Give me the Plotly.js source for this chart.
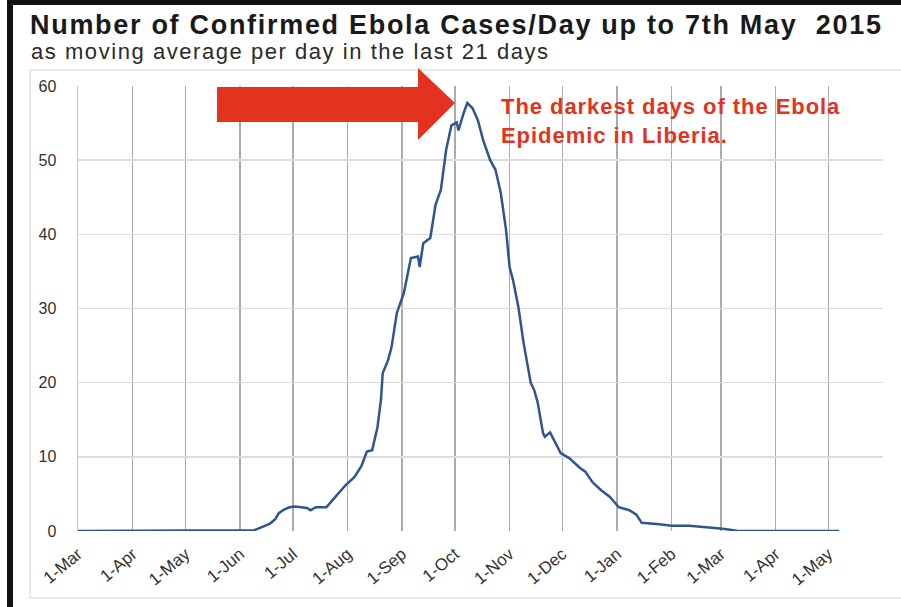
<!DOCTYPE html>
<html><head><meta charset="utf-8">
<script src="https://cdn.plot.ly/plotly-3.0.1.min.js"></script>
<style>
html,body{margin:0;padding:0;background:#fff;overflow:hidden}
#chart{width:901px;height:607px}
text.gtitle{letter-spacing:1.7px}
g.annotation[data-index="0"] text{letter-spacing:1.55px}
g.annotation[data-index="1"] text{letter-spacing:0.95px}
</style>
</head><body><div id="chart"></div>
<script>
// ---- data ----
const dates = ['2014-03-01','2014-03-21','2014-03-25','2014-04-15','2014-05-10','2014-06-01','2014-06-09','2014-06-13','2014-06-18','2014-06-21','2014-06-23','2014-06-26','2014-06-29','2014-07-02','2014-07-06','2014-07-09','2014-07-11','2014-07-14','2014-07-17','2014-07-20','2014-07-24','2014-07-27','2014-07-31','2014-08-05','2014-08-09','2014-08-12','2014-08-15','2014-08-18','2014-08-20','2014-08-21','2014-08-24','2014-08-26','2014-08-29','2014-09-02','2014-09-06','2014-09-10','2014-09-11','2014-09-13','2014-09-17','2014-09-20','2014-09-23','2014-09-26','2014-09-29','2014-10-02','2014-10-03','2014-10-06','2014-10-08','2014-10-11','2014-10-14','2014-10-17','2014-10-21','2014-10-24','2014-10-27','2014-10-30','2014-11-01','2014-11-03','2014-11-06','2014-11-09','2014-11-13','2014-11-15','2014-11-17','2014-11-20','2014-11-21','2014-11-24','2014-11-27','2014-11-30','2014-12-05','2014-12-11','2014-12-14','2014-12-18','2014-12-23','2014-12-28','2015-01-02','2015-01-08','2015-01-12','2015-01-15','2015-01-25','2015-02-01','2015-02-11','2015-02-21','2015-03-02','2015-03-10','2015-03-20','2015-05-07'];
const cases = [0,0,0.1,0.1,0.05,0,0.1,0.5,1.0,1.6,2.4,2.9,3.2,3.3,3.2,3.1,2.8,3.2,3.2,3.2,4.3,5.1,6.2,7.3,8.8,10.7,10.9,14.0,17.7,21.3,23.0,24.8,29.4,32.1,36.8,37.0,35.6,38.8,39.5,44.0,46.0,51.4,54.7,55.1,54.0,56.4,57.7,57.0,55.4,52.7,50.0,48.7,45.6,40.6,35.6,33.8,30.2,25.3,20.0,19.0,17.3,13.2,12.7,13.3,11.9,10.5,9.8,8.5,8.0,6.6,5.5,4.6,3.2,2.8,2.2,1.1,0.9,0.7,0.7,0.5,0.3,0.05,0,0];
const tickDates = ['2014-03-01','2014-04-01','2014-05-01','2014-06-01','2014-07-01','2014-08-01','2014-09-01','2014-10-01','2014-11-01','2014-12-01','2015-01-01','2015-02-01','2015-03-01','2015-04-01','2015-05-01','2015-06-01'];
const tickLabels = ['1-Mar','1-Apr','1-May','1-Jun','1-Jul','1-Aug','1-Sep','1-Oct','1-Nov','1-Dec','1-Jan','1-Feb','1-Mar','1-Apr','1-May',''];
const yTicks = [0,10,20,30,40,50,60];
const titleText = 'Number of Confirmed Ebola Cases/Day up to 7th May  2015';
const subtitleText = 'as moving average per day in the last 21 days';
const noteText = 'The darkest days of the Ebola<br>Epidemic in Liberia.';

// ---- layout helpers (pixel -> paper) ----
const L = 78, R = 883, T = 86, B = 531;
const PX = x => (x - L) / (R - L);
const PY = y => (B - y) / (B - T);
const FONT = 'Liberation Sans, Arial, sans-serif';
const RED = '#e3321f';

const arrowPath = 'M' + PX(217) + ',' + PY(87) + ' L' + PX(418) + ',' + PY(87) + ' L' + PX(418) + ',' + PY(68) +
  ' L' + PX(455) + ',' + PY(103) + ' L' + PX(418) + ',' + PY(140) + ' L' + PX(418) + ',' + PY(122) +
  ' L' + PX(217) + ',' + PY(122) + ' Z';

const trace = {
  type: 'scatter', mode: 'lines', x: dates, y: cases,
  line: {color: '#2f5590', width: 2.5, shape: 'linear'},
  hoverinfo: 'skip'
};

const layout = {
  width: 901, height: 607,
  margin: {l: L, r: 901 - R, t: T, b: 607 - B, pad: 0},
  paper_bgcolor: '#fff', plot_bgcolor: '#fff',
  showlegend: false,
  font: {family: FONT, color: '#333'},
  title: {
    text: '<b>' + titleText + '</b>',
    font: {family: FONT, size: 27, color: '#1a1a1a'},
    xref: 'container', x: 30 / 901, xanchor: 'left',
    yref: 'container', y: 1 - 25 / 607, yanchor: 'middle'
  },
  xaxis: {
    type: 'date', range: ['2014-03-01', '2015-06-01'],
    tickmode: 'array', tickvals: tickDates, ticktext: tickLabels,
    tickangle: -40, tickfont: {family: FONT, size: 17, color: '#333'},
    ticks: '', ticklabelstandoff: 9,
    showgrid: true, gridcolor: '#ababab', gridwidth: 1.6,
    showline: false, zeroline: false, fixedrange: true
  },
  yaxis: {
    range: [0, 60], tickmode: 'array', tickvals: yTicks,
    tickfont: {family: FONT, size: 16, color: '#333'},
    ticks: '', ticklabelstandoff: 17,
    showgrid: true, gridcolor: '#dcdcdc', gridwidth: 1.6,
    showline: true, linecolor: '#c4c4c4', linewidth: 1.5,
    zeroline: false, fixedrange: true
  },
  annotations: [
    {text: subtitleText, xref: 'paper', yref: 'paper', x: PX(29), y: PY(52), xanchor: 'left', yanchor: 'middle',
     align: 'left', showarrow: false, font: {family: FONT, size: 22, color: '#2a2a2a'}},
    {text: '<b>' + noteText + '</b>', xref: 'paper', yref: 'paper', x: PX(499), y: PY(92), xanchor: 'left', yanchor: 'top',
     align: 'left', showarrow: false, font: {family: FONT, size: 22, color: RED}}
  ],
  shapes: [
    {type: 'rect', xref: 'paper', yref: 'paper', x0: PX(30), x1: PX(905), y0: PY(598), y1: PY(70),
     line: {color: '#e2e2e2', width: 1.5}, fillcolor: 'rgba(0,0,0,0)', layer: 'below'},
    {type: 'rect', xref: 'paper', yref: 'paper', x0: PX(7), x1: PX(13), y0: PY(610), y1: PY(0),
     line: {width: 0}, fillcolor: '#111'},
    {type: 'rect', xref: 'paper', yref: 'paper', x0: PX(7), x1: PX(905), y0: PY(5), y1: PY(-2),
     line: {width: 0}, fillcolor: '#111'},
    {type: 'path', xref: 'paper', yref: 'paper', path: arrowPath, fillcolor: RED, line: {width: 0}}
  ]
};

Plotly.newPlot('chart', [trace], layout, {staticPlot: true, displayModeBar: false});
</script></body></html>
